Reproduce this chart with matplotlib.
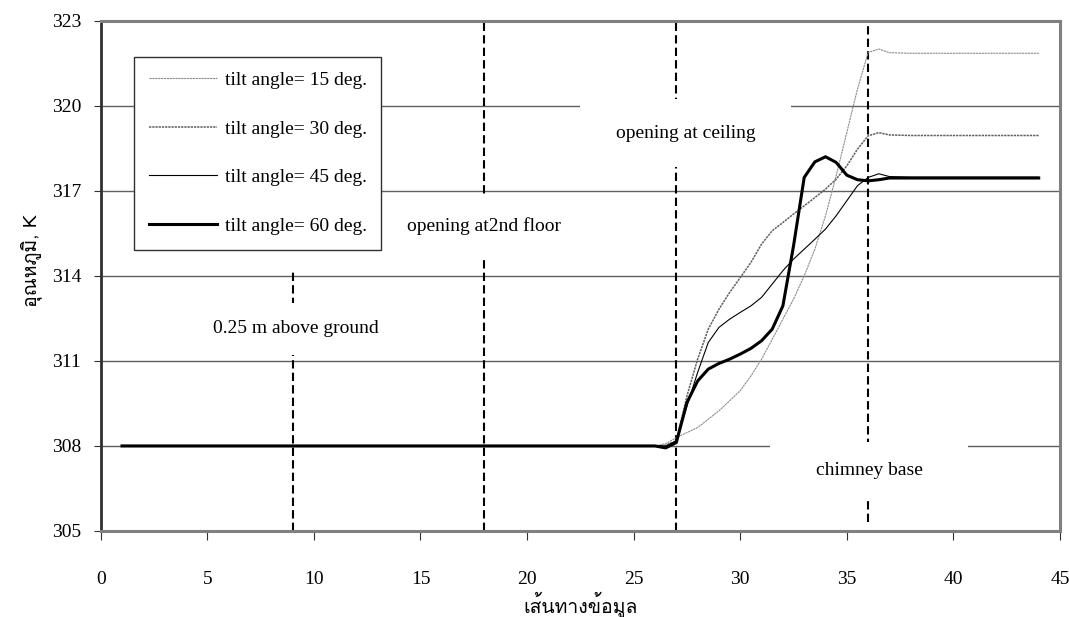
import numpy as np
import matplotlib
matplotlib.use("Agg")
import matplotlib.pyplot as plt
from matplotlib import font_manager
from matplotlib.ft2font import FT2Font
from matplotlib.patches import Rectangle

# x positions along the data path (finer steps where the curves climb)
x_flat = list(range(1, 27))
x_rise = [26.5, 27, 27.5, 28, 28.5, 29, 29.5, 30, 30.5, 31, 31.5, 32, 32.5,
          33, 33.5, 34, 34.5, 35, 35.5, 36, 36.5, 37]
x_top = list(range(38, 45))
x_path = x_flat + x_rise + x_top

flat = [308.0] * len(x_flat)

temp_15 = flat + [308.08, 308.29, 308.47, 308.65, 308.94, 309.24, 309.59, 309.95,
                  310.47, 311.06, 311.76, 312.47, 313.18, 314.0, 314.94, 316.12,
                  317.53, 319.06, 320.59, 321.88, 322.0, 321.87] + [321.85] * len(x_top)
temp_30 = flat + [308.02, 308.18, 309.76, 311.06, 312.12, 312.82, 313.41, 313.94,
                  314.47, 315.12, 315.59, 315.88, 316.18, 316.47, 316.76, 317.06,
                  317.41, 317.88, 318.47, 318.94, 319.05, 318.97] + [318.95] * len(x_top)
temp_45 = flat + [308.0, 308.18, 309.41, 310.59, 311.65, 312.18, 312.47, 312.71,
                  312.94, 313.24, 313.71, 314.18, 314.59, 314.94, 315.29, 315.65,
                  316.12, 316.65, 317.18, 317.47, 317.6, 317.5] + [317.48] * len(x_top)
temp_60 = flat + [307.93, 308.12, 309.53, 310.29, 310.71, 310.91, 311.06, 311.24,
                  311.44, 311.71, 312.12, 312.94, 315.06, 317.47, 318.02, 318.2,
                  318.0, 317.55, 317.39, 317.35, 317.39, 317.45] + [317.45] * len(x_top)

labels = ["tilt angle= 15 deg.", "tilt angle= 30 deg.",
          "tilt angle= 45 deg.", "tilt angle= 60 deg."]

section_x = [9, 18, 27, 36]
section_names = ["0.25 m above ground", "opening at2nd floor",
                 "opening at ceiling", "chimney base"]

y_ticks = [305, 308, 311, 314, 317, 320, 323]
x_ticks = [0, 5, 10, 15, 20, 25, 30, 35, 40, 45]


def thai_font():
    # look for any installed font that has Thai glyphs
    for f in font_manager.fontManager.ttflist:
        try:
            if 0x0E2D in FT2Font(f.fname).get_charmap():
                return f.name
        except Exception:
            pass
    return None


serif = ["Liberation Serif", "DejaVu Serif"]
th = thai_font()
thai_fam = ([th] if th else []) + serif + ["DejaVu Sans"]

plt.rcParams["font.family"] = serif
plt.rcParams["font.size"] = 14

fig = plt.figure(figsize=(10.69, 6.17), dpi=100)
ax = fig.add_axes([0.0942, 0.1394, 0.8974, 0.8271])

ax.set_xlim(0, 45)
ax.set_ylim(305, 323)
ax.set_xticks(x_ticks)
ax.set_yticks(y_ticks)

ax.set_axisbelow(True)
ax.grid(axis="y", color="#606060", linewidth=1.0)

for s in ["top", "right", "bottom"]:
    ax.spines[s].set_color("#808080")
    ax.spines[s].set_linewidth(2.2)
ax.spines["left"].set_color("#303030")
ax.spines["left"].set_linewidth(2.0)

ax.tick_params(axis="y", direction="out", length=5, width=0.8, pad=9, color="#303030")
ax.tick_params(axis="x", direction="out", length=6.5, width=0.8, pad=22, color="#303030")

# section markers
dash = dict(color="black", linewidth=1.5, linestyle=(0, (4, 2)), zorder=1)
ax.axvline(section_x[0], ymin=0, ymax=(314.2 - 305) / 18, **dash)
ax.axvline(section_x[1], **dash)
ax.axvline(section_x[2], **dash)
ax.axvline(section_x[3], ymin=0.018, **dash)

# label boxes (text centre, box half width / half height in data units)
boxes = [
    (9.14, 312.13, 4.3, 0.92),
    (18.0, 315.76, 4.0, 1.07),
    (27.45, 319.03, 4.95, 1.2),
    (36.05, 307.12, 4.65, 1.03),
]
for (tx, ty, hw, hh), name in zip(boxes, section_names):
    ax.add_patch(Rectangle((tx - hw, ty - hh), 2 * hw, 2 * hh,
                           facecolor="white", edgecolor="none", zorder=1.5))
    ax.text(tx, ty, name, ha="center", va="center", fontsize=14, zorder=3)

ax.plot(x_path, temp_15, color="#8c8c8c", linewidth=0.8,
        linestyle=(0, (2, 0.6)), label=labels[0], zorder=4)
ax.plot(x_path, temp_30, color="#606060", linewidth=1.1,
        linestyle=(0, (1.5, 0.6)), label=labels[1], zorder=4)
ax.plot(x_path, temp_45, color="black", linewidth=0.8, label=labels[2], zorder=4)
ax.plot(x_path, temp_60, color="black", linewidth=2.2, label=labels[3], zorder=4)

leg = ax.legend(loc="upper left", bbox_to_anchor=(0.035, 0.9295), borderaxespad=0,
                frameon=True, fancybox=False, edgecolor="#303030", framealpha=1,
                fontsize=14, handlelength=3.5, handletextpad=0.4,
                labelspacing=1.6, borderpad=0.75)
leg.get_frame().set_linewidth(1.0)
leg.set_zorder(5)

ax.set_ylabel("อุณหภูมิ, K", family=thai_fam, fontsize=14)
ax.yaxis.set_label_coords(-0.061, 0.53)
ax.set_xlabel("เส้นทางข้อมูล", family=thai_fam, fontsize=14, va="top")
ax.xaxis.set_label_coords(0.5, -0.12)

fig.savefig("out.png", dpi=100)
